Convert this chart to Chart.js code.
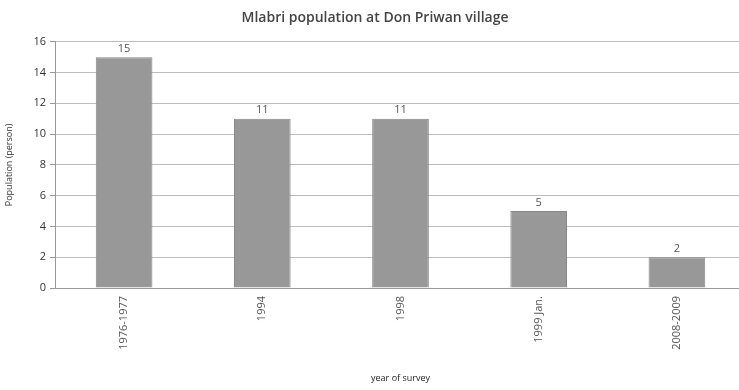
<!DOCTYPE html>
<html>
<head>
<meta charset="utf-8">
<script src="https://cdn.jsdelivr.net/npm/chart.js@4/dist/chart.umd.min.js"></script>
<style>
  html, body { margin: 0; padding: 0; background: #fff; overflow: hidden; }
  #wrap { width: 746px; height: 390px; }
</style>
</head>
<body>
<div id="wrap"><canvas id="chart"></canvas></div>
<script>
// Survey years and head counts
const surveys = ['1976-1977', '1994', '1998', '1999 Jan.', '2008-2009'];
const population = [15, 11, 11, 5, 2];
const yTicks = [0, 2, 4, 6, 8, 10, 12, 14, 16];

const FONT = "'Open Sans', 'Liberation Sans', sans-serif";

// Print each bar's value just above it
const valueLabels = {
  id: 'valueLabels',
  afterDatasetsDraw(chart) {
    const ctx = chart.ctx;
    const meta = chart.getDatasetMeta(0);
    ctx.save();
    ctx.font = '11px ' + FONT;
    ctx.fillStyle = '#555';
    ctx.textAlign = 'center';
    ctx.textBaseline = 'bottom';
    meta.data.forEach((bar, i) => {
      ctx.fillText(String(population[i]), bar.x, bar.y - 3);
    });
    ctx.restore();
  },
};

new Chart(document.getElementById('chart'), {
  type: 'bar',
  data: {
    labels: surveys,
    datasets: [{
      data: population,
      backgroundColor: '#989898',
      borderColor: '#878787',
      borderWidth: 1,
      barPercentage: 0.41,
      categoryPercentage: 1,
    }],
  },
  options: {
    responsive: true,
    maintainAspectRatio: false,
    animation: false,
    layout: { padding: { left: 4, right: 0, top: 0, bottom: 4 } },
    plugins: {
      legend: { display: false },
      tooltip: { enabled: false },
      title: {
        display: true,
        text: 'Mlabri population at Don Priwan village',
        color: '#444',
        font: { family: FONT, size: 14, weight: '600' },
        padding: { top: 10, bottom: 15 },
      },
    },
    scales: {
      x: {
        grid: { display: false, drawTicks: false },
        border: { color: '#9a9a9a' },
        ticks: {
          color: '#555',
          font: { family: FONT, size: 11 },
          maxRotation: 90,
          minRotation: 90,
          padding: 8,
        },
        title: {
          display: true,
          text: 'year of survey',
          color: '#222',
          font: { family: FONT, size: 9 },
          padding: { top: 6, bottom: 2 },
        },
        afterFit(scale) { scale.height = 98; },
      },
      y: {
        min: 0,
        max: 16,
        afterBuildTicks(scale) { scale.ticks = yTicks.map((v) => ({ value: v })); },
        grid: { color: '#bdbdbd', tickLength: 5, tickColor: '#9a9a9a' },
        border: { color: '#9a9a9a' },
        ticks: {
          color: '#333',
          font: { family: FONT, size: 11 },
          padding: 4,
        },
        title: {
          display: true,
          text: 'Population (person)',
          color: '#333',
          font: { family: FONT, size: 9 },
          padding: { top: 0, bottom: 3 },
        },
        afterFit(scale) { scale.width = 51; },
      },
    },
  },
  plugins: [valueLabels],
});
</script>
</body>
</html>
